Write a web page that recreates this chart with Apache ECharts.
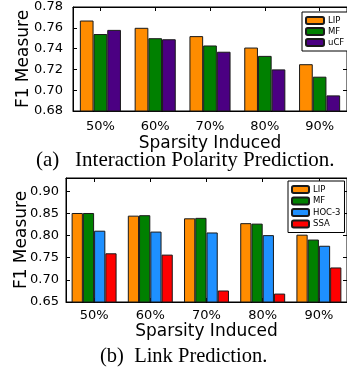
<!DOCTYPE html>
<html>
<head>
<meta charset="utf-8">
<script src="https://cdn.jsdelivr.net/npm/echarts@6/dist/echarts.min.js"></script>
<style>html,body{margin:0;padding:0;background:#fff;}#c{width:347px;height:371px;}</style>
</head>
<body>
<div id="c"></div>
<script>
const categories = ['50%', '60%', '70%', '80%', '90%'];
// (a) Interaction Polarity Prediction
const aLIP = [0.767, 0.760, 0.752, 0.741, 0.725];
const aMF  = [0.754, 0.750, 0.743, 0.733, 0.713];
const aUCF = [0.758, 0.749, 0.737, 0.720, 0.695];
// (b) Link Prediction
const bLIP = [0.851, 0.845, 0.839, 0.828, 0.802];
const bMF  = [0.851, 0.846, 0.840, 0.827, 0.791];
const bHOC = [0.811, 0.809, 0.807, 0.801, 0.777];
const bSSA = [0.760, 0.757, 0.676, 0.669, 0.728];

const FONT = 'DejaVu Sans';
const C = { LIP: '#ff8c00', MF: '#008000', uCF: '#4b0082', HOC: '#1e90ff', SSA: '#ff0000' };

function bar(name, data, color, xi, yi, cat) {
  return {
    type: 'bar', name: name, data: data, xAxisIndex: xi, yAxisIndex: yi,
    barGap: '0%', barCategoryGap: cat,
    itemStyle: { color: color, borderColor: '#1a1a1a', borderWidth: 1 },
    emphasis: { disabled: true }, animation: false
  };
}
const tickInside = { show: true, inside: true, length: 4, lineStyle: { color: '#000' } };
const axisLine = { show: true, lineStyle: { color: '#000', width: 1 } };

const option = {
  animation: false,
  textStyle: { fontFamily: FONT },
  title: [
    { text: '(a)   Interaction Polarity Prediction.', left: 36, top: 150, padding: 0,
      textStyle: { fontFamily: 'Liberation Serif', fontSize: 21, fontWeight: 'normal', color: '#000' } },
    { text: '(b)  Link Prediction.', left: 100, top: 346, padding: 0,
      textStyle: { fontFamily: 'Liberation Serif', fontSize: 20.5, fontWeight: 'normal', color: '#000' } }
  ],
  grid: [
    { left: 73, top: 7, width: 280, height: 104, show: true, borderColor: '#000', borderWidth: 1 },
    { left: 66, top: 178, width: 281, height: 124, show: true, borderColor: '#000', borderWidth: 1 }
  ],
  legend: [
    { data: ['LIP', 'MF', 'uCF'], orient: 'vertical', left: 302, top: 12,
      itemWidth: 18, itemHeight: 7, itemGap: 2, padding: [4, 6, 4, 3],
      borderColor: '#000', borderWidth: 1, backgroundColor: '#fff',
      textStyle: { fontFamily: FONT, fontSize: 8.5, color: '#000', padding: [0, 0, 0, -1] } },
    { data: ['LIP ', 'MF ', 'HOC-3', 'SSA'], orient: 'vertical', left: 288, top: 181,
      itemWidth: 17, itemHeight: 7, itemGap: 2.5, padding: [4, 4, 4, 3],
      borderColor: '#000', borderWidth: 1, backgroundColor: '#fff',
      textStyle: { fontFamily: FONT, fontSize: 8.5, color: '#000', padding: [0, 0, 0, -1] } }
  ],
  xAxis: [
    { type: 'category', data: categories, gridIndex: 0, axisLine: axisLine,
      axisTick: Object.assign({ alignWithLabel: true }, tickInside),
      axisLabel: { fontFamily: FONT, fontSize: 13, color: '#000', margin: 9 },
      name: 'Sparsity Induced', nameLocation: 'middle', nameGap: 24, nameMoveOverlap: false,
      nameTextStyle: { fontFamily: FONT, fontSize: 17, color: '#000' } },
    { type: 'category', data: categories, gridIndex: 0, position: 'top', axisLine: axisLine,
      axisTick: Object.assign({ alignWithLabel: true }, tickInside), axisLabel: { show: false } },
    { type: 'category', data: categories, gridIndex: 1, axisLine: axisLine,
      axisTick: Object.assign({ alignWithLabel: true }, tickInside),
      axisLabel: { fontFamily: FONT, fontSize: 13, color: '#000', margin: 7 },
      name: 'Sparsity Induced', nameLocation: 'middle', nameGap: 21, nameMoveOverlap: false,
      nameTextStyle: { fontFamily: FONT, fontSize: 17, color: '#000' } },
    { type: 'category', data: categories, gridIndex: 1, position: 'top', axisLine: axisLine,
      axisTick: Object.assign({ alignWithLabel: true }, tickInside), axisLabel: { show: false } }
  ],
  yAxis: [
    { type: 'value', gridIndex: 0, min: 0.68, max: 0.78, interval: 0.02, axisLine: axisLine,
      axisTick: tickInside, splitLine: { show: false },
      axisLabel: { fontFamily: FONT, fontSize: 13, color: '#000', margin: 10,
        formatter: v => v.toFixed(2) },
      name: 'F1 Measure', nameLocation: 'middle', nameGap: 41, nameMoveOverlap: false,
      nameTextStyle: { fontFamily: FONT, fontSize: 17, color: '#000' } },
    { type: 'value', gridIndex: 0, position: 'right', min: 0.68, max: 0.78, interval: 0.02,
      axisLine: axisLine, axisTick: tickInside, splitLine: { show: false }, axisLabel: { show: false } },
    { type: 'value', gridIndex: 1, min: 0.65, max: 0.93, interval: 0.05, axisLine: axisLine,
      axisTick: tickInside, splitLine: { show: false },
      axisLabel: { fontFamily: FONT, fontSize: 13, color: '#000', margin: 7, showMaxLabel: false,
        formatter: v => v.toFixed(2) },
      name: 'F1 Measure', nameLocation: 'middle', nameGap: 36, nameMoveOverlap: false,
      nameTextStyle: { fontFamily: FONT, fontSize: 17, color: '#000' } },
    { type: 'value', gridIndex: 1, position: 'right', min: 0.65, max: 0.93, interval: 0.05,
      axisLine: axisLine, axisTick: tickInside, splitLine: { show: false }, axisLabel: { show: false } }
  ],
  series: [
    bar('LIP', aLIP, C.LIP, 0, 0, '25%'),
    bar('MF', aMF, C.MF, 0, 0, '25%'),
    bar('uCF', aUCF, C.uCF, 0, 0, '25%'),
    bar('LIP ', bLIP, C.LIP, 2, 2, '20%'),
    bar('MF ', bMF, C.MF, 2, 2, '20%'),
    bar('HOC-3', bHOC, C.HOC, 2, 2, '20%'),
    bar('SSA', bSSA, C.SSA, 2, 2, '20%')
  ]
};
const chart = echarts.init(document.getElementById('c'), null, { renderer: 'canvas' });
chart.setOption(option);
</script>
</body>
</html>
